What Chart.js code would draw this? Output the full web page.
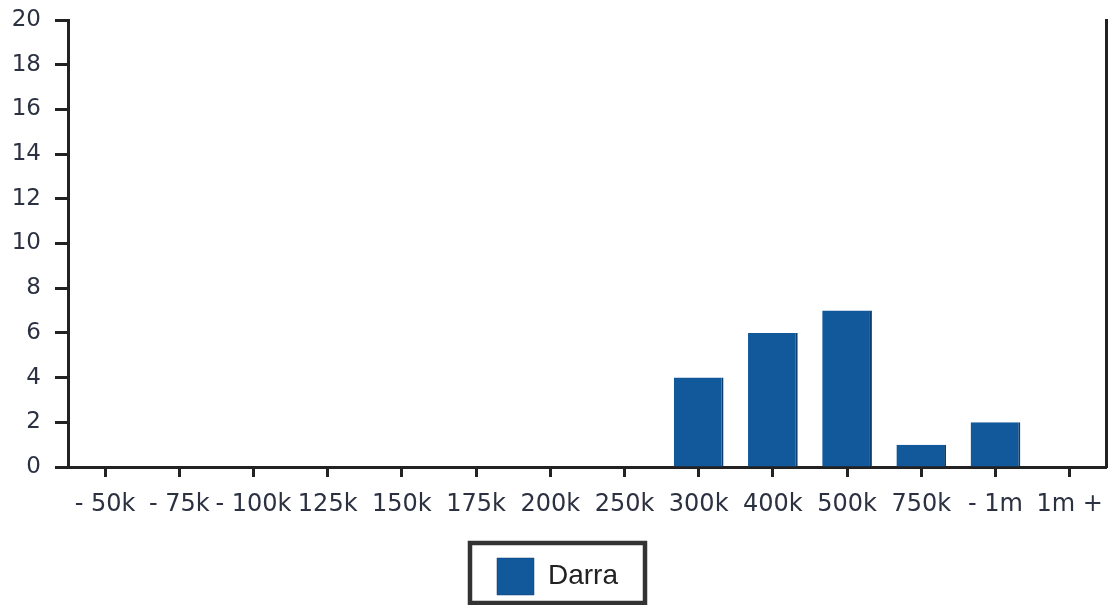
<!DOCTYPE html>
<html>
<head>
<meta charset="utf-8">
<script src="https://cdn.jsdelivr.net/npm/chart.js@4/dist/chart.umd.min.js"></script>
<style>
  html, body { margin: 0; padding: 0; background: #fff; }
  #wrap { width: 1116px; height: 605px; }
</style>
</head>
<body>
<div id="wrap"><canvas id="priceChart"></canvas></div>
<script>
const priceBands = ["- 50k", "- 75k", "- 100k", "125k", "150k", "175k", "200k",
    "250k", "300k", "400k", "500k", "750k", "- 1m", "1m +"];
const darraSales = [0, 0, 0, 0, 0, 0, 0, 0, 4, 6, 7, 1, 2, 0];
const yTicks = [0, 2, 4, 6, 8, 10, 12, 14, 16, 18, 20];

const axisColor = "#222";
const textColor = "#2c3142";

// box round the legend, like the printed one
const legendFrame = {
    id: "legendFrame",
    afterDraw(chart) {
        const lg = chart.legend;
        const box = lg.legendHitBoxes[0];
        if (!box) return;
        const ctx = chart.ctx;
        ctx.save();
        ctx.strokeStyle = "#333";
        ctx.lineWidth = 4.5;
        ctx.strokeRect(box.left - 27, lg.top - 2, box.width + 54, lg.bottom - lg.top);
        ctx.restore();
    }
};

const ctx = document.querySelector("#priceChart").getContext("2d");

const salesChart = new Chart(ctx, {
    type: "bar",
    data: {
        labels: priceBands,
        datasets: [
            {
                label: "Darra",
                data: darraSales,
                backgroundColor: "#12599c",
                borderColor: "#0c3f70",
                borderWidth: { right: 2, left: 0, top: 0, bottom: 0 },
                categoryPercentage: 1,
                barPercentage: 0.67
            }
        ]
    },
    options: {
        responsive: true,
        maintainAspectRatio: false,
        animation: false,
        layout: { padding: { top: 20, right: 1, left: 0, bottom: 0 } },
        scales: {
            x: {
                afterFit: axis => { axis.height = 78; },
                grid: {
                    display: true,
                    offset: false,
                    drawOnChartArea: false,
                    drawTicks: true,
                    tickLength: 10,
                    tickWidth: 3,
                    tickColor: axisColor
                },
                border: { display: true, color: axisColor, width: 3 },
                ticks: {
                    autoSkip: false,
                    maxRotation: 0,
                    padding: 13,
                    color: textColor,
                    font: { family: "DejaVu Sans", size: 24 }
                }
            },
            y: {
                min: 0,
                max: 20,
                afterFit: axis => {
                    axis.width = 68;
                    axis.paddingTop = 0;
                },
                afterBuildTicks: axis => {
                    axis.ticks = yTicks.map(v => ({ value: v }));
                },
                grid: {
                    display: true,
                    drawOnChartArea: false,
                    tickLength: 13,
                    tickWidth: 3,
                    tickColor: axisColor
                },
                border: { display: true, color: axisColor, width: 3 },
                ticks: {
                    padding: 14,
                    color: textColor,
                    font: { family: "DejaVu Sans", size: 23 }
                }
            },
            yRight: {
                position: "right",
                min: 0,
                max: 20,
                afterFit: axis => { axis.width = 3; },
                grid: { display: false },
                ticks: { display: false },
                border: { display: true, color: axisColor, width: 3 }
            }
        },
        plugins: {
            legend: {
                position: "bottom",
                labels: {
                    boxWidth: 37,
                    boxHeight: 37,
                    padding: 13,
                    color: "#222",
                    font: { family: "Liberation Sans", size: 28 }
                }
            },
            tooltip: { enabled: false }
        }
    },
    plugins: [legendFrame]
});
</script>
</body>
</html>
